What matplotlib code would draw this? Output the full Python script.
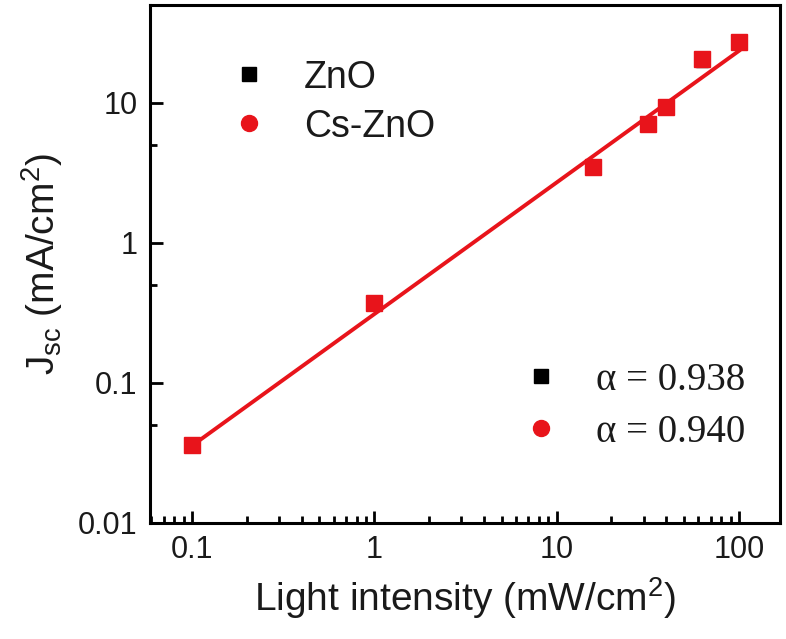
import numpy as np
import matplotlib
matplotlib.use("Agg")
import matplotlib.pyplot as plt
from matplotlib.ticker import LogLocator, FixedLocator, NullFormatter

plt.rcParams['font.family'] = ['Liberation Sans', 'DejaVu Sans']
plt.rcParams['mathtext.fontset'] = 'custom'
plt.rcParams['mathtext.rm'] = 'Liberation Sans'
plt.rcParams['mathtext.it'] = 'Liberation Sans'

# data (mW/cm^2 -> mA/cm^2)
intensity = [0.1, 1, 15.8, 31.6, 39.8, 63.1, 100]
jsc_zno = [0.036, 0.37, 3.5, 7.1, 9.3, 20.0, 27.0]
jsc_cszno = [0.036, 0.37, 3.5, 7.1, 9.3, 20.5, 27.3]
series_labels = ['ZnO', 'Cs-ZnO']
alpha_labels = ['α = 0.938', 'α = 0.940']
fit_alpha = 0.940
fit_prefactor = 0.31   # J_sc at 1 mW/cm^2 on the fitted line
fit_range = [0.1, 100]
xticks = [0.1, 1, 10, 100]
xtick_labels = ['0.1', '1', '10', '100']
yticks = [0.01, 0.1, 1, 10]
ytick_labels = ['0.01', '0.1', '1', '10']

red = '#e8141b'
txt = '#1a1a1a'
W, H = 786, 639

fig = plt.figure(figsize=(W / 100, H / 100), dpi=100)
ax = fig.add_axes([150 / W, 1 - 523 / H, 630 / W, 518 / H])

xf = np.array(fit_range)
ax.plot(xf, fit_prefactor * xf ** fit_alpha, color=red, lw=2.8, zorder=2)
ax.plot(intensity, jsc_zno, 's', color='black', ms=8.5, zorder=3)
ax.plot(intensity, jsc_cszno, 's', color=red, ms=11, zorder=4)

ax.set_xscale('log')
ax.set_yscale('log')
ax.set_xlim(0.0589, 168)
ax.set_ylim(0.01, 50)

ax.xaxis.set_major_locator(FixedLocator(xticks))
ax.set_xticklabels(xtick_labels)
ax.xaxis.set_minor_locator(LogLocator(base=10, subs=np.arange(2, 10)))
ax.xaxis.set_minor_formatter(NullFormatter())
ax.yaxis.set_major_locator(FixedLocator(yticks))
ax.set_yticklabels(ytick_labels)
ax.yaxis.set_minor_locator(FixedLocator([0.05, 0.5, 5]))
ax.yaxis.set_minor_formatter(NullFormatter())

ax.tick_params(which='both', direction='in', labelsize=22, width=2, labelcolor=txt)
ax.tick_params(which='major', length=9, pad=9)
ax.tick_params(which='minor', length=5)
for s in ax.spines.values():
    s.set_linewidth(2.2)

ax.set_xlabel('Light intensity (mW/cm$^{2}$)', fontsize=28, labelpad=7, color=txt)
ax.set_ylabel('J$_{\\mathrm{sc}}$ (mA/cm$^{2}$)', fontsize=28, labelpad=9, color=txt)

# legend 1 (upper left)
leg1_y = [74, 123]
leg_markers = [dict(marker='s', color='black', ms=9.5), dict(marker='o', color=red, ms=11.5)]
for yy, lab, mk in zip(leg1_y, series_labels, leg_markers):
    fig.add_artist(plt.Line2D([249 / W], [1 - yy / H], ls='none', **mk))
    fig.text(304 / W, 1 - yy / H, lab, fontsize=27, va='center_baseline', ha='left', color=txt)

# legend 2 (lower right)
leg2_y = [376, 428]
for yy, lab, mk in zip(leg2_y, alpha_labels, leg_markers):
    fig.add_artist(plt.Line2D([541 / W], [1 - yy / H], ls='none', **mk))
    fig.text(596 / W, 1 - yy / H, lab, fontsize=28, va='center_baseline', ha='left',
             family='Liberation Serif', color=txt)

fig.savefig('out.png', dpi=100)
